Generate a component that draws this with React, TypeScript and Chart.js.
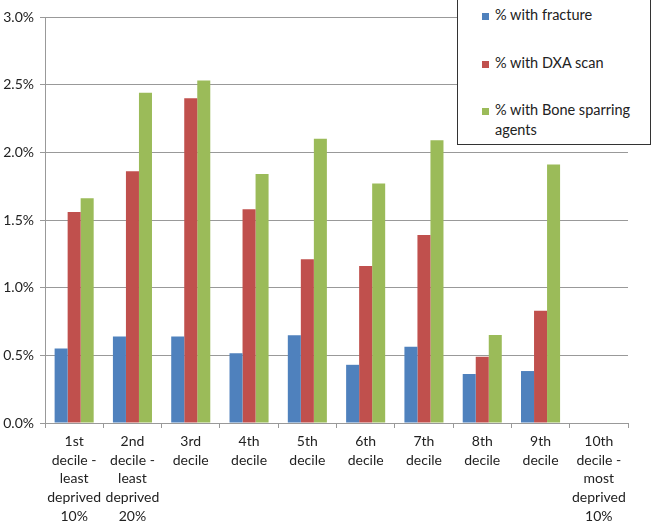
import React, { useEffect, useRef } from "react";
import { Chart, registerables } from "chart.js";

Chart.register(...registerables);

const categories: string[][] = [
  ["1st", "decile -", "least", "deprived", "10%"],
  ["2nd", "decile -", "least", "deprived", "20%"],
  ["3rd", "decile"],
  ["4th", "decile"],
  ["5th", "decile"],
  ["6th", "decile"],
  ["7th", "decile"],
  ["8th", "decile"],
  ["9th", "decile"],
  ["10th", "decile -", "most", "deprived", "10%"],
];

const fracture: (number | null)[] = [0.55, 0.64, 0.64, 0.515, 0.648, 0.43, 0.564, 0.362, 0.384, null];
const dxa: (number | null)[] = [1.56, 1.86, 2.40, 1.58, 1.21, 1.16, 1.39, 0.49, 0.83, null];
const boneSparing: (number | null)[] = [1.66, 2.44, 2.53, 1.84, 2.10, 1.77, 2.09, 0.65, 1.91, null];

const seriesNames = ["% with fracture", "% with DXA scan", "% with Bone sparring agents"];
const seriesColors = ["#4F81BD", "#C0504D", "#9BBB59"];

const FONT = "Lato, 'Open Sans', sans-serif";

export default function App() {
  const canvasRef = useRef<HTMLCanvasElement | null>(null);

  useEffect(() => {
    document.body.style.margin = "0";
    const ctx = canvasRef.current!;
    const chart = new Chart(ctx, {
      type: "bar",
      data: {
        labels: categories,
        datasets: [
          { label: seriesNames[0], data: fracture, backgroundColor: seriesColors[0] },
          { label: seriesNames[1], data: dxa, backgroundColor: seriesColors[1] },
          { label: seriesNames[2], data: boneSparing, backgroundColor: seriesColors[2] },
        ],
      },
      options: {
        animation: false,
        responsive: true,
        maintainAspectRatio: false,
        layout: { padding: { top: 17, right: 24, left: 0, bottom: 0 } },
        plugins: { legend: { display: false }, tooltip: { enabled: false } },
        datasets: { bar: { categoryPercentage: 0.67, barPercentage: 1.0 } },
        scales: {
          x: {
            grid: { drawOnChartArea: false, drawTicks: true, tickLength: 5, color: "#999", offset: true },
            border: { color: "#999" },
            ticks: { color: "#222", font: { family: FONT, size: 14, lineHeight: 1.34 }, maxRotation: 0, autoSkip: false, padding: 4 },
            afterFit: (s: any) => { s.height = 100; },
          },
          y: {
            min: 0,
            max: 3.0,
            ticks: { stepSize: 0.5, color: "#222", font: { family: FONT, size: 14 }, padding: 6, callback: (v: any) => Number(v).toFixed(1) + "%" },
            grid: { color: "#999", tickLength: 5 },
            border: { color: "#999" },
            afterFit: (s: any) => { s.width = 45; },
          },
        },
      },
    });
    return () => chart.destroy();
  }, []);

  return (
    <div style={{ position: "relative", width: 652, height: 523, background: "#fff" }}>
      <canvas ref={canvasRef} />
      <div
        style={{
          position: "absolute",
          left: 457,
          top: -1,
          width: 194,
          height: 146,
          border: "1px solid #333",
          boxSizing: "border-box",
          background: "#fff",
          fontFamily: FONT,
          fontSize: 14.5,
          color: "#222",
        }}
      >
        {seriesNames.map((n, i) => (
          <div key={n} style={{ position: "absolute", left: 24, top: 5 + i * 47.5, display: "flex", alignItems: "flex-start" }}>
            <span style={{ display: "inline-block", width: 7, height: 7, background: seriesColors[i], marginTop: 8, marginRight: 6, flexShrink: 0 }} />
            <span style={{ width: 145, lineHeight: "20px" }}>{n}</span>
          </div>
        ))}
      </div>
    </div>
  );
}
